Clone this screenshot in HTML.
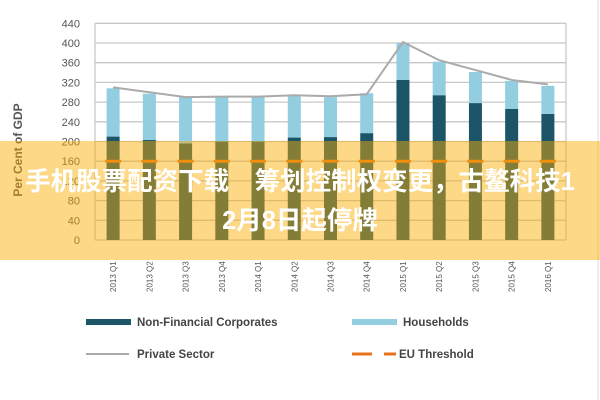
<!DOCTYPE html>
<html><head><meta charset="utf-8"><style>
body{margin:0;width:600px;height:400px;background:#fff;overflow:hidden;position:relative;font-family:"Liberation Sans",sans-serif}
svg{position:absolute;left:0;top:0}
#banner{position:absolute;left:0;top:141px;width:600px;height:119px;background:rgba(248,172,0,0.47);color:#fff;font-family:"Liberation Sans","Noto Sans CJK SC",sans-serif;font-weight:bold;font-size:25.5px;text-align:center;line-height:39px;padding-top:22px;box-sizing:border-box;white-space:nowrap}
</style></head><body>
<svg id="chart" width="600" height="400" viewBox="0 0 600 400"></svg>
<div id="banner">手机股票配资下载　筹划控制权变更，古鳌科技1<br>2月8日起停牌</div>
<script>
const categories=["2013 Q1","2013 Q2","2013 Q3","2013 Q4","2014 Q1","2014 Q2","2014 Q3","2014 Q4","2015 Q1","2015 Q2","2015 Q3","2015 Q4","2016 Q1"];
const nfc=[210,203,196,200,200,208,209,217,325,294,278,266,256];
const households=[98,94,94,91,91,86,81,81,75,68,63,57,57];
const privateSector=[310,300,290,291,291,294,292,296,402,365,345,325,316];
const euThreshold=160;
const yTicks=[0,40,80,120,160,200,240,280,320,360,400,440];
const NS="http://www.w3.org/2000/svg";
const svg=document.getElementById('chart');
const L=95,R=566,T=23.3,B=240,ymax=440;
const y=v=>B-(v/ymax)*(B-T);
const bw=(R-L)/categories.length;
const xc=i=>L+bw*(i+0.5);
function mk(t,a,p){const e=document.createElementNS(NS,t);for(const k in a)e.setAttribute(k,a[k]);(p||svg).appendChild(e);return e;}
mk('line',{x1:598,y1:0,x2:598,y2:400,stroke:'#ddd','stroke-width':1});
yTicks.forEach(v=>{
 const g=mk('line',{x1:L,x2:R,y1:y(v),y2:y(v),stroke:'#c8c8c8','stroke-width':1.3});
 
 
 const t=mk('text',{x:80,y:y(v)+4,'text-anchor':'end','font-size':11,fill:'#555'});
 t.textContent=v;
 
 
});
mk('line',{x1:L,x2:L,y1:T,y2:B,stroke:'#c8c8c8','stroke-width':1.3});
mk('line',{x1:R,x2:R,y1:T,y2:B,stroke:'#c8c8c8','stroke-width':1.3});
const yt=mk('text',{x:0,y:0,transform:'translate(22,150) rotate(-90)','text-anchor':'middle','font-size':12,fill:'#555','font-weight':'bold'});
yt.textContent='Per Cent of GDP';


categories.forEach((c,i)=>{
 const w=13,x=xc(i)-w/2;
 const b1=mk('rect',{x:x,y:y(nfc[i]),width:w,height:B-y(nfc[i]),fill:'#1c5468'});
 
 
 const top=nfc[i]+households[i];
 const b2=mk('rect',{x:x,y:y(top),width:w,height:y(nfc[i])-y(top),fill:'#92cde0'});
 
 
 const d=mk('line',{x1:xc(i)-8,x2:xc(i)+8,y1:y(euThreshold),y2:y(euThreshold),stroke:'#e8731c','stroke-width':3});
 
 
 const t=mk('text',{x:0,y:0,transform:`translate(${xc(i)+3},292) rotate(-90)`,'font-size':8,fill:'#555'});
 t.textContent=c;
 
 
});
const pl=mk('polyline',{points:privateSector.map((v,i)=>xc(i)+','+y(v)).join(' '),fill:'none',stroke:'#aaa','stroke-width':2});


function leg(sx,sy,kind,label){
 const g=mk('g',{});
 
 
 if(kind==='nfc')mk('rect',{x:sx,y:sy-3,width:45,height:6,fill:'#1c5468'},g);
 if(kind==='hh')mk('rect',{x:sx,y:sy-3,width:45,height:6,fill:'#92cde0'},g);
 if(kind==='ps')mk('line',{x1:sx,x2:sx+43,y1:sy,y2:sy,stroke:'#aaa','stroke-width':2},g);
 if(kind==='eu'){mk('line',{x1:sx,x2:sx+20,y1:sy,y2:sy,stroke:'#e8731c','stroke-width':3},g);mk('line',{x1:sx+32,x2:sx+44,y1:sy,y2:sy,stroke:'#e8731c','stroke-width':3},g);}
 const t=mk('text',{x:sx+(kind==='eu'?47:51),y:sy+4,'font-size':11.5,'font-weight':'bold',fill:'#444'},g);
 t.textContent=label;
}
leg(86,322,'nfc','Non-Financial Corporates');
leg(352,322,'hh','Households');
leg(86,354,'ps','Private Sector');
leg(352,354,'eu','EU Threshold');
</script>
</body></html>
